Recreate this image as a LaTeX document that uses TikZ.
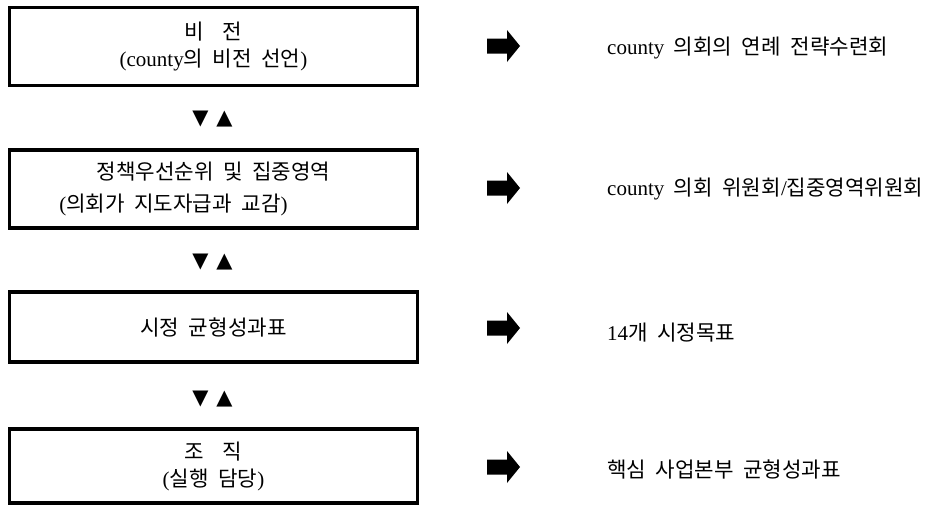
\documentclass[tikz,border=0pt]{standalone}
\usepackage{fontspec}
\setmainfont{Liberation Serif}
\newfontfamily\krfont[Scale=1.01]{Noto Sans CJK KR}
\newfontfamily\symfont{DejaVu Sans}
\newcommand\kr[1]{{\krfont\spaceskip=0.45em\relax #1}}
\newcommand\lt[1]{{\rmfamily #1}}
\begin{document}
\begin{tikzpicture}[x=1pt,y=-1pt]
\useasboundingbox (0,0) rectangle (931,506);
\tikzset{
  stagebox/.style={draw, line width=3.5pt, minimum width=408pt, inner sep=0pt,
    align=center, font=\fontsize{21}{27}\selectfont},
  tri/.style={font=\symfont\fontsize{21}{21}\selectfont, inner sep=0pt},
  note/.style={anchor=west, inner sep=0pt, font=\fontsize{21}{27}\selectfont},
  fatarrow/.pic={\fill (-16.5,-7.5) -- (3.5,-7.5) -- (3.5,-16) -- (16.5,0)
    -- (3.5,16) -- (3.5,7.5) -- (-16.5,7.5) -- cycle;}
}
% boxes
\node[stagebox, minimum height=78pt] (b1) at (213.5,46.5)
  {\kr{비\hspace{19pt}전}\\ \kr{\lt{(county}의 비전 선언\lt{)}}};
\node[stagebox, minimum height=78pt] (b2) at (213.5,189)
  {\kr{정책우선순위 및 집중영역}\\[5pt] \kr{\lt{(}의회가 지도자급과 교감\lt{)}}\hspace*{80pt}};
\node[stagebox, minimum height=70pt] (b3) at (213.5,327)
  {\kr{시정 균형성과표}};
\node[stagebox, minimum height=74pt] (b4) at (213.5,466)
  {\kr{조\hspace{19pt}직}\\ \kr{\lt{(}실행 담당\lt{)}}};
% triangles
\node[tri] (t1) at (212.5,119) {▼\hspace{8pt}▲};
\node[tri] (t2) at (212.5,262) {▼\hspace{8pt}▲};
\node[tri] (t3) at (212.5,399) {▼\hspace{8pt}▲};
% arrows
\pic (a1) at (503.5,46) {fatarrow};
\pic (a2) at (503.5,188) {fatarrow};
\pic (a3) at (503.5,328) {fatarrow};
\pic (a4) at (503.5,467) {fatarrow};
% notes
\node[note] (n1) at (607,48) {\kr{\lt{county} 의회의 연례 전략수련회}};
\node[note] (n2) at (607,189) {\kr{\lt{county} 의회 위원회\lt{/}집중영역위원회}};
\node[note] (n3) at (607,333) {\kr{\lt{14}개 시정목표}};
\node[note] (n4) at (607,469) {\kr{핵심 사업본부 균형성과표}};
\end{tikzpicture}
\end{document}
